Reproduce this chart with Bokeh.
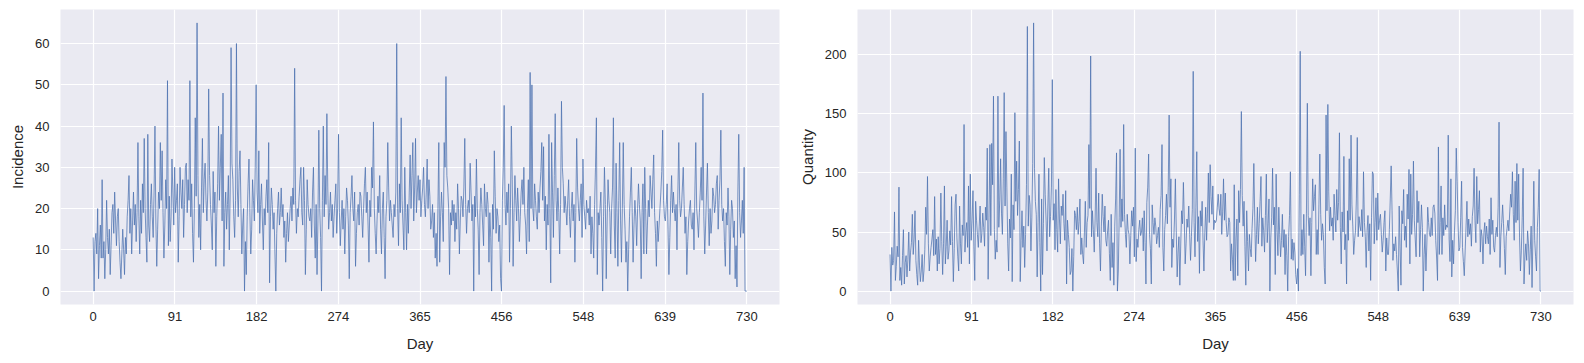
from bokeh.plotting import figure
from bokeh.layouts import row
from bokeh.models import Range1d, FixedTicker, ColumnDataSource
from bokeh.embed import file_html
from bokeh.resources import INLINE

incidence = [
    13, 0, 12, 14, 9, 20, 3, 11, 16, 8,
    27, 8, 12, 3, 10, 22, 13, 9, 15, 4,
    11, 19, 21, 14, 24, 17, 11, 18, 20, 12,
    7, 3, 9, 15, 10, 4, 13, 9, 18, 22,
    28, 14, 20, 9, 17, 24, 16, 21, 12, 19,
    36, 18, 9, 22, 14, 26, 19, 37, 20, 13,
    7, 38, 16, 12, 21, 26, 18, 13, 24, 40,
    17, 6, 15, 24, 20, 36, 22, 34, 19, 8,
    16, 27, 20, 51, 11, 23, 12, 18, 32, 24,
    16, 30, 19, 22, 26, 7, 18, 30, 24, 20,
    27, 13, 21, 30, 31, 19, 27, 22, 51, 18,
    26, 14, 7, 20, 42, 23, 65, 28, 13, 21,
    10, 25, 37, 19, 27, 31, 22, 17, 24, 49,
    28, 21, 16, 10, 29, 19, 24, 6, 18, 26,
    40, 22, 30, 38, 17, 48, 6, 19, 24, 15,
    21, 28, 10, 24, 59, 31, 27, 18, 13, 22,
    60, 25, 18, 29, 34, 21, 9, 16, 20, 0,
    12, 4, 18, 26, 32, 19, 9, 15, 27, 22,
    17, 30, 50, 24, 19, 34, 14, 21, 26, 17,
    10, 20, 16, 23, 27, 19, 36, 2, 18, 25,
    21, 15, 19, 9, 0, 14, 20, 24, 16, 19,
    25, 18, 21, 13, 17, 7, 14, 19, 12, 16,
    20, 23, 17, 25, 21, 54, 22, 14, 20, 18,
    23, 27, 30, 19, 16, 30, 22, 4, 15, 27,
    21, 18, 17, 20, 13, 24, 30, 16, 8, 21,
    4, 17, 39, 20, 13, 0, 22, 40, 18, 28,
    21, 43, 25, 15, 19, 24, 17, 21, 13, 18,
    22, 26, 14, 20, 38, 19, 11, 17, 22, 15,
    20, 9, 18, 25, 22, 16, 3, 19, 23, 28,
    20, 17, 24, 6, 14, 19, 21, 16, 24, 23,
    18, 13, 20, 26, 30, 19, 24, 16, 7, 22,
    18, 30, 25, 41, 20, 14, 9, 17, 23, 19,
    28, 15, 9, 20, 24, 13, 3, 18, 22, 36,
    25, 17, 22, 19, 16, 13, 21, 18, 24, 60,
    20, 11, 26, 19, 42, 22, 16, 10, 30, 19,
    10, 21, 14, 24, 33, 20, 28, 36, 17, 25,
    37, 19, 24, 28, 22, 27, 18, 22, 25, 30,
    21, 18, 24, 32, 20, 27, 23, 15, 17, 21,
    13, 19, 8, 14, 6, 20, 36, 7, 18, 24,
    19, 12, 36, 30, 52, 28, 25, 20, 4, 19,
    16, 22, 17, 21, 12, 19, 15, 26, 20, 9,
    17, 23, 22, 18, 25, 37, 21, 14, 20, 22,
    19, 31, 24, 17, 21, 0, 23, 18, 32, 20,
    15, 4, 19, 25, 21, 16, 11, 26, 20, 18,
    24, 21, 7, 19, 13, 0, 21, 15, 34, 23,
    14, 20, 18, 12, 16, 3, 0, 22, 30, 45,
    21, 16, 24, 19, 26, 7, 20, 40, 27, 6,
    19, 28, 22, 17, 25, 20, 12, 18, 24, 27,
    21, 30, 19, 16, 9, 20, 27, 12, 53, 20,
    50, 20, 17, 26, 22, 18, 15, 24, 19, 25,
    29, 36, 22, 35, 17, 23, 10, 21, 16, 38,
    20, 2, 36, 24, 13, 28, 43, 22, 17, 25,
    19, 9, 21, 46, 30, 26, 19, 23, 20, 16,
    22, 27, 18, 13, 20, 24, 17, 21, 7, 19,
    37, 25, 20, 17, 22, 26, 13, 32, 21, 18,
    15, 22, 19, 20, 16, 23, 9, 18, 14, 8,
    21, 30, 42, 4, 19, 16, 20, 24, 13, 0,
    18, 30, 21, 3, 17, 27, 22, 19, 9, 20,
    25, 42, 16, 8, 31, 19, 6, 22, 36, 17,
    7, 20, 36, 21, 15, 7, 12, 0, 10, 18,
    24, 30, 19, 7, 16, 22, 18, 11, 20, 26,
    21, 17, 3, 19, 26, 9, 30, 20, 9, 16,
    22, 18, 28, 24, 20, 27, 33, 19, 14, 6,
    17, 12, 16, 20, 24, 29, 39, 22, 18, 17,
    21, 26, 15, 4, 13, 22, 28, 19, 24, 20,
    17, 21, 10, 24, 36, 22, 18, 20, 25, 30,
    21, 14, 18, 4, 12, 17, 20, 22, 16, 15,
    19, 10, 24, 36, 20, 17, 13, 19, 24, 30,
    22, 48, 18, 9, 16, 24, 31, 19, 11, 20,
    14, 17, 25, 23, 19, 21, 26, 28, 15, 22,
    27, 39, 21, 17, 20, 12, 6, 19, 16, 25,
    18, 4, 15, 22, 20, 13, 17, 3, 11, 1,
    24, 38, 19, 13, 17, 22, 14, 30, 0, 0,
    0,
]

quantity = [
    31, 0, 37, 22, 26, 67, 9, 21, 38, 29,
    88, 9, 20, 5, 30, 52, 6, 24, 30, 12,
    27, 50, 17, 33, 41, 65, 31, 44, 68, 26,
    14, 5, 43, 22, 8, 17, 31, 8, 17, 35,
    71, 48, 97, 40, 17, 29, 37, 44, 52, 30,
    80, 31, 44, 17, 46, 23, 36, 83, 42, 14,
    40, 89, 23, 38, 60, 27, 34, 51, 39, 80,
    42, 8, 36, 73, 82, 45, 29, 17, 72, 40,
    23, 56, 47, 141, 33, 50, 58, 37, 89, 23,
    99, 43, 60, 85, 38, 9, 76, 60, 48, 37,
    55, 72, 41, 49, 66, 54, 38, 71, 60, 121,
    10, 62, 124, 47, 125, 90, 165, 52, 27, 43,
    33, 165, 54, 77, 112, 66, 48, 95, 168, 72,
    135, 88, 40, 17, 61, 45, 99, 8, 73, 52,
    151, 76, 110, 64, 86, 127, 8, 43, 68, 37,
    55, 20, 48, 90, 224, 55, 81, 73, 34, 62,
    108, 227, 104, 76, 65, 12, 58, 99, 41, 0,
    78, 14, 57, 113, 82, 60, 34, 72, 104, 46,
    63, 88, 179, 60, 74, 35, 86, 52, 33, 95,
    61, 40, 72, 64, 82, 57, 43, 85, 6, 60,
    48, 37, 14, 17, 36, 0, 29, 68, 64, 52,
    71, 48, 59, 78, 31, 45, 31, 23, 50, 76,
    37, 58, 64, 124, 70, 199, 46, 68, 52, 33,
    61, 104, 58, 46, 83, 40, 17, 55, 82, 63,
    50, 72, 43, 38, 51, 60, 32, 9, 65, 20,
    41, 5, 55, 78, 117, 0, 17, 62, 120, 54,
    78, 59, 141, 65, 48, 37, 65, 52, 48, 23,
    47, 68, 55, 71, 29, 121, 25, 44, 37, 52,
    60, 47, 50, 62, 34, 68, 41, 6, 75, 88,
    116, 48, 36, 6, 73, 58, 48, 62, 55, 40,
    47, 54, 37, 69, 81, 124, 37, 17, 52, 64,
    82, 57, 88, 149, 71, 95, 20, 44, 37, 61,
    95, 51, 12, 33, 46, 5, 39, 68, 57, 92,
    61, 23, 40, 61, 54, 72, 48, 26, 46, 69,
    186, 58, 29, 71, 118, 42, 63, 15, 68, 55,
    76, 43, 17, 49, 71, 43, 66, 100, 58, 107,
    80, 65, 89, 52, 60, 58, 60, 71, 82, 70,
    64, 82, 48, 67, 95, 60, 83, 58, 46, 48,
    62, 58, 17, 40, 27, 9, 90, 9, 45, 61,
    13, 85, 58, 86, 152, 81, 55, 76, 38, 5,
    68, 42, 17, 48, 36, 29, 53, 70, 108, 62,
    25, 48, 71, 40, 57, 76, 97, 38, 62, 51,
    33, 64, 99, 41, 57, 78, 0, 45, 62, 104,
    56, 71, 14, 99, 52, 30, 71, 48, 29, 43,
    65, 37, 52, 14, 48, 30, 0, 46, 64, 101,
    27, 44, 26, 41, 33, 14, 6, 19, 0, 82,
    203, 30, 52, 31, 65, 38, 13, 66, 159, 64,
    47, 62, 13, 58, 95, 68, 80, 90, 31, 52,
    31, 73, 116, 65, 43, 57, 48, 20, 6, 149,
    68, 158, 84, 51, 71, 55, 62, 43, 82, 64,
    50, 86, 60, 75, 134, 54, 23, 67, 50, 114,
    35, 48, 6, 68, 43, 112, 60, 132, 73, 55,
    31, 43, 51, 78, 130, 46, 63, 55, 51, 69,
    46, 101, 58, 46, 20, 51, 64, 34, 57, 9,
    62, 101, 99, 40, 58, 79, 43, 83, 52, 60,
    65, 48, 33, 43, 58, 68, 17, 45, 31, 31,
    52, 78, 106, 68, 26, 40, 34, 46, 31, 17,
    0, 72, 38, 5, 68, 57, 86, 43, 55, 37,
    82, 61, 103, 23, 99, 48, 65, 110, 60, 44,
    29, 85, 58, 76, 29, 52, 73, 54, 0, 31,
    48, 17, 39, 71, 58, 48, 46, 62, 47, 71,
    73, 66, 43, 28, 9, 122, 31, 58, 89, 31,
    62, 47, 73, 52, 56, 54, 132, 44, 25, 95,
    12, 43, 23, 51, 68, 121, 93, 58, 34, 37,
    62, 93, 37, 25, 13, 34, 55, 76, 46, 61,
    48, 57, 38, 63, 72, 104, 60, 41, 97, 57,
    69, 85, 33, 52, 46, 23, 49, 58, 40, 55,
    46, 40, 61, 31, 79, 48, 60, 37, 33, 47,
    54, 46, 71, 143, 20, 46, 58, 73, 57, 36,
    14, 46, 53, 60, 51, 67, 82, 71, 101, 65,
    43, 93, 58, 108, 60, 99, 45, 17, 34, 62,
    104, 6, 28, 40, 26, 51, 40, 14, 35, 55,
    3, 48, 93, 43, 29, 17, 54, 71, 103, 0,
    0,
]

days = list(range(len(incidence)))
assert len(incidence) == 731 and len(quantity) == 731

x_ticks = [0, 91.25, 182.5, 273.75, 365, 456.25, 547.5, 638.75, 730]
x_tick_labels = ["0", "91", "182", "274", "365", "456", "548", "639", "730"]
inc_ticks = [0, 10, 20, 30, 40, 50, 60]
qty_ticks = [0, 50, 100, 150, 200]

FONT = "Liberation Sans"
TXT = "#262626"


def make(y, ylabel, yticks, ymax, width, left, right):
    pad = 0.05 * ymax
    p = figure(width=width, height=358, output_backend="svg", toolbar_location=None,
               x_range=Range1d(-36.5, 766.5), y_range=Range1d(-pad, ymax + pad),
               min_border_left=left, min_border_right=right,
               min_border_top=9, min_border_bottom=54)
    p.background_fill_color = "#EAEAF2"
    p.border_fill_color = "white"
    p.outline_line_color = None
    src = ColumnDataSource(dict(x=days, y=y))
    p.line("x", "y", source=src, line_color="#4C72B0", line_width=0.75)
    p.xaxis.ticker = FixedTicker(ticks=x_ticks)
    p.xaxis.major_label_overrides = {t: l for t, l in zip(x_ticks, x_tick_labels)}
    p.yaxis.ticker = FixedTicker(ticks=yticks)
    p.xaxis.axis_label = "Day"
    p.yaxis.axis_label = ylabel
    for ax in (p.xaxis, p.yaxis):
        ax.axis_line_color = None
        ax.major_tick_line_color = None
        ax.minor_tick_line_color = None
        ax.major_label_text_font = FONT
        ax.major_label_text_font_size = "13px"
        ax.major_label_text_color = TXT
        ax.axis_label_text_font = FONT
        ax.axis_label_text_font_size = "15px"
        ax.axis_label_text_font_style = "normal"
        ax.axis_label_text_color = TXT
    p.xaxis.major_label_standoff = 1
    p.xaxis.axis_label_standoff = 11
    p.yaxis.major_label_standoff = 5
    p.yaxis.axis_label_standoff = 6
    p.grid.grid_line_color = "white"
    p.grid.grid_line_width = 1.2
    p.xgrid.ticker = FixedTicker(ticks=x_ticks)
    p.ygrid.ticker = FixedTicker(ticks=yticks)
    return p


p1 = make(incidence, "Incidence", inc_ticks, 65, 791, 60, 12)
p2 = make(quantity, "Quantity", qty_ticks, 227, 784, 66, 2)
layout = row(p1, p2)

open("out.html", "w").write(file_html(layout, INLINE))
